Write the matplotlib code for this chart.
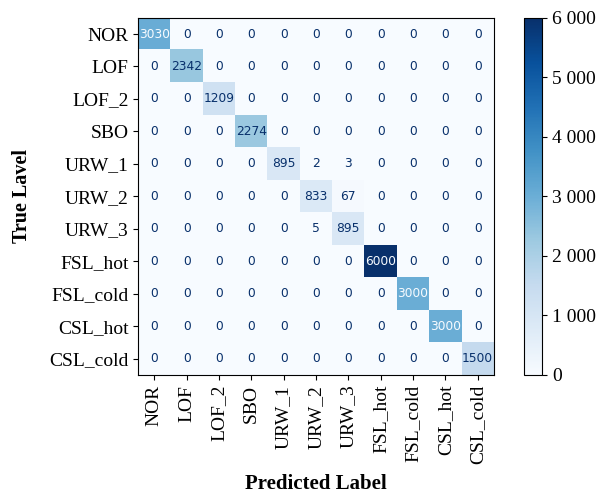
import numpy as np
import matplotlib
matplotlib.use("Agg")
import matplotlib.pyplot as plt
from matplotlib.ticker import FuncFormatter

labels = ['NOR', 'LOF', 'LOF_2', 'SBO', 'URW_1', 'URW_2', 'URW_3',
          'FSL_hot', 'FSL_cold', 'CSL_hot', 'CSL_cold']

# confusion matrix, rows = true, cols = predicted
cm = np.zeros((11, 11), dtype=int)
diag = [3030, 2342, 1209, 2274, 895, 833, 895, 6000, 3000, 3000, 1500]
for i, v in enumerate(diag):
    cm[i, i] = v
cm[4, 5] = 2
cm[4, 6] = 3
cm[5, 6] = 67
cm[6, 5] = 5

serif = ['Liberation Serif', 'DejaVu Serif']

fig = plt.figure(figsize=(6.06, 4.94), dpi=100)
ax = fig.add_axes([0.228, 0.241, 0.587, 0.723])
cax = fig.add_axes([0.865, 0.241, 0.030, 0.723])

cmap = plt.cm.Blues
im = ax.imshow(cm, cmap=cmap, vmin=0, vmax=6000, aspect='auto')

thresh = (cm.max() + cm.min()) / 2
for i in range(11):
    for j in range(11):
        c = cmap(0.0) if cm[i, j] >= thresh else cmap(1.0)
        ax.text(j, i, str(cm[i, j]), ha='center', va='center',
                fontsize=8.8, color=c, family='DejaVu Sans')

ax.set_xticks(range(11))
ax.set_yticks(range(11))
ax.set_xticklabels(labels, rotation=90, family=serif, fontsize=14)
ax.set_yticklabels(labels, family=serif, fontsize=14)
ax.set_xlabel('Predicted Label', family=serif, fontsize=15, fontweight='bold',
              labelpad=7)
ax.set_ylabel('True Lavel', family=serif, fontsize=14.5, fontweight='bold',
              labelpad=12)

cb = fig.colorbar(im, cax=cax)
cb.set_ticks([0, 1000, 2000, 3000, 4000, 5000, 6000])
cb.ax.yaxis.set_major_formatter(FuncFormatter(lambda v, p: f'{int(v):,}'.replace(',', ' ')))
for t in cb.ax.get_yticklabels():
    t.set_family(serif)
    t.set_fontsize(14)

fig.savefig('out.png', dpi=100)
